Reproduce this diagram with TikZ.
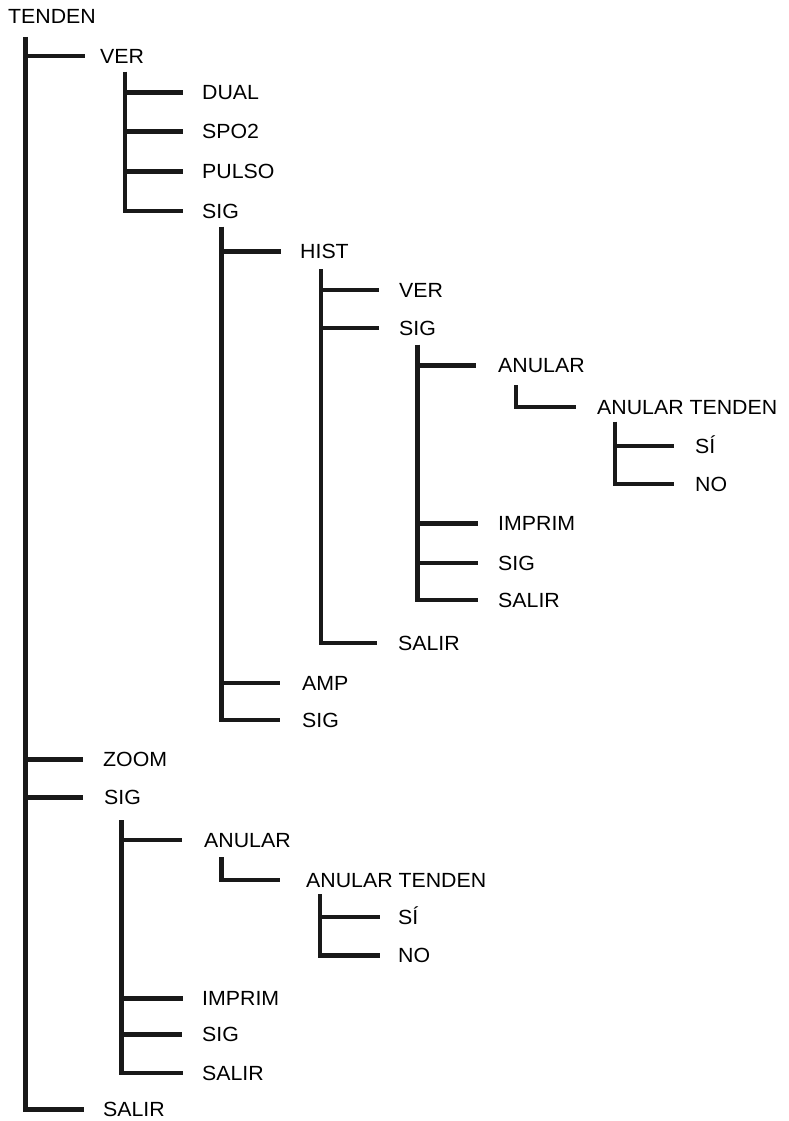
\documentclass[tikz,border=0pt]{standalone}
\usepackage{fontspec}
\setmainfont{Liberation Sans}[FakeStretch=1.04]
\begin{document}
\begin{tikzpicture}[x=1pt,y=-1pt,
  lbl/.style={anchor=west, inner sep=0pt, font=\fontsize{20.5}{24}\selectfont,
              text height=14.3pt, text depth=0pt},
  bar/.style={line width=4.8pt, line join=miter, line cap=butt, color=black!90}]
\useasboundingbox (0,0) rectangle (788,1121);

% menu entries
\node[lbl] (tenden)  at (8,16)      {TENDEN};
\node[lbl] (ver)     at (100,56)    {VER};
\node[lbl] (dual)    at (202,92.7)  {DUAL};
\node[lbl] (spo2)    at (202,131.7) {SPO2};
\node[lbl] (pulso)   at (202,171.7) {PULSO};
\node[lbl] (sig1)    at (202,211)   {SIG};
\node[lbl] (hist)    at (300,251.7) {HIST};
\node[lbl] (hver)    at (399,290)   {VER};
\node[lbl] (hsig)    at (399,328)   {SIG};
\node[lbl] (anular1) at (498,365.5) {ANULAR};
\node[lbl] (atend1)  at (597,407)   {ANULAR TENDEN};
\node[lbl] (si1)     at (695,446)   {SÍ};
\node[lbl] (no1)     at (695,484)   {NO};
\node[lbl] (imprim1) at (498,523.5) {IMPRIM};
\node[lbl] (sig3)    at (498,563)   {SIG};
\node[lbl] (salir1)  at (498,600)   {SALIR};
\node[lbl] (hsalir)  at (398,643)   {SALIR};
\node[lbl] (amp)     at (302,683)   {AMP};
\node[lbl] (sig2)    at (302,720)   {SIG};
\node[lbl] (zoom)    at (103,759.5) {ZOOM};
\node[lbl] (sig4)    at (104,797.5) {SIG};
\node[lbl] (anular2) at (204,840)   {ANULAR};
\node[lbl] (atend2)  at (306,880)   {ANULAR TENDEN};
\node[lbl] (si2)     at (398,917)   {SÍ};
\node[lbl] (no2)     at (398,955.5) {NO};
\node[lbl] (imprim2) at (202,998.5) {IMPRIM};
\node[lbl] (sig5)    at (202,1034.5){SIG};
\node[lbl] (salir2)  at (202,1073)  {SALIR};
\node[lbl] (salir3)  at (103,1109.5){SALIR};

% tops of the vertical bars
\coordinate (bm)  at (25.5,37);
\coordinate (bv)  at (125,71.7);
\coordinate (bs1) at (221.7,226.7);
\coordinate (bh)  at (321,269.3);
\coordinate (bhs) at (417.5,344.5);
\coordinate (ba1) at (516,385);
\coordinate (bt1) at (615,421.7);
\coordinate (bs4) at (121.7,820);
\coordinate (ba2) at (221.7,857.3);
\coordinate (bt2) at (320,894);

% TENDEN
\draw[bar] (bm) |- ([xshift=-19pt]salir3.west);
\foreach \c/\g in {ver/15,zoom/20,sig4/21}
  \draw[bar] (bm |- \c) -- ([xshift=-\g pt]\c.west);

% VER
\draw[bar] (bv) |- ([xshift=-19pt]sig1.west);
\foreach \c in {dual,spo2,pulso}
  \draw[bar] (bv |- \c) -- ([xshift=-19pt]\c.west);

% SIG -> HIST, AMP, SIG
\draw[bar] (bs1) |- ([xshift=-22pt]sig2.west);
\foreach \c/\g in {hist/19,amp/22}
  \draw[bar] (bs1 |- \c) -- ([xshift=-\g pt]\c.west);

% HIST
\draw[bar] (bh) |- ([xshift=-21pt]hsalir.west);
\foreach \c in {hver,hsig}
  \draw[bar] (bh |- \c) -- ([xshift=-20pt]\c.west);

% HIST -> SIG
\draw[bar] (bhs) |- ([xshift=-20pt]salir1.west);
\foreach \c/\g in {anular1/22,imprim1/20,sig3/20}
  \draw[bar] (bhs |- \c) -- ([xshift=-\g pt]\c.west);

% ANULAR -> ANULAR TENDEN -> SI / NO
\draw[bar] (ba1) |- ([xshift=-21pt]atend1.west);
\draw[bar] (bt1) |- ([xshift=-21pt]no1.west);
\draw[bar] (bt1 |- si1) -- ([xshift=-21pt]si1.west);

% SIG (lower)
\draw[bar] (bs4) |- ([xshift=-19pt]salir2.west);
\foreach \c/\g in {anular2/22,imprim2/19,sig5/20}
  \draw[bar] (bs4 |- \c) -- ([xshift=-\g pt]\c.west);

% ANULAR -> ANULAR TENDEN -> SI / NO (lower)
\draw[bar] (ba2) |- ([xshift=-26pt]atend2.west);
\draw[bar] (bt2) |- ([xshift=-18pt]no2.west);
\draw[bar] (bt2 |- si2) -- ([xshift=-18pt]si2.west);
\end{tikzpicture}
\end{document}
